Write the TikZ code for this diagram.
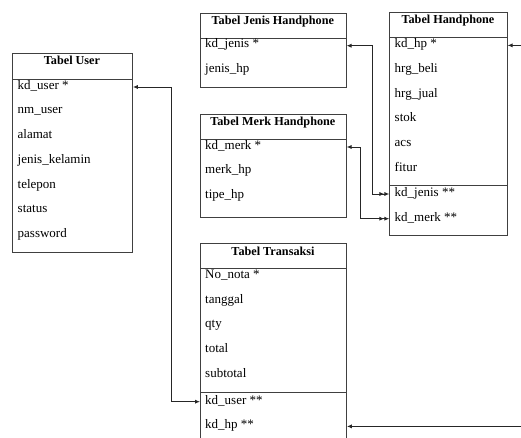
\documentclass[tikz,border=0pt]{standalone}
\usepackage{fontspec}
\setmainfont{Liberation Serif}
\usetikzlibrary{arrows.meta}
\tikzset{
  tbl/.style={draw=black!75, line width=0.9pt, inner sep=0pt, anchor=north west},
  sepline/.style={draw=black!75, line width=0.9pt},
  ttl/.style={font=\bfseries\fontsize{12.2}{14}\selectfont, anchor=base, inner sep=0pt},
  row/.style={font=\fontsize{13}{15}\selectfont, anchor=base west, inner sep=0pt},
  conn/.style={draw=black!85, line width=0.9pt},
  tip/.tip={Latex[length=5pt,width=4.2pt]},
}
\begin{document}
\begin{tikzpicture}[x=1pt,y=-1pt]
\useasboundingbox (0,0) rectangle (521,438);
\coordinate (redge) at (521,0);

% Tabel User
\node[tbl, minimum width=119.7pt, minimum height=198.7pt] (user) at (12.3,53.3) {};
\draw[sepline] (user.west |- 0,79) -- (user.east |- 0,79);
\node[ttl] (usert) at (72,65) {Tabel User};
\foreach \t [count=\i] in {kd\_user *, nm\_user, alamat, jenis\_kelamin, telepon, status, password}
  \node[row] (u\i) at (17.5,{89.3+24.7*(\i-1)}) {\t};

% Tabel Jenis Handphone
\node[tbl, minimum width=145.7pt, minimum height=74pt] (jenis) at (200,13.3) {};
\draw[sepline] (jenis.west |- 0,38) -- (jenis.east |- 0,38);
\node[ttl] (jenist) at (272.85,25) {Tabel Jenis Handphone};
\foreach \t [count=\i] in {kd\_jenis *, jenis\_hp}
  \node[row] (j\i) at (205,{48+24.7*(\i-1)}) {\t};

% Tabel Merk Handphone
\node[tbl, minimum width=145.7pt, minimum height=102.7pt] (merk) at (200,114) {};
\draw[sepline] (merk.west |- 0,139.3) -- (merk.east |- 0,139.3);
\node[ttl] (merkt) at (272.85,125.7) {Tabel Merk Handphone};
\foreach \t [count=\i] in {kd\_merk *, merk\_hp, tipe\_hp}
  \node[row] (m\i) at (205,{149.3+24.7*(\i-1)}) {\t};

% Tabel Handphone
\node[tbl, minimum width=117.4pt, minimum height=222.7pt] (hp) at (389.3,12.3) {};
\draw[sepline] (hp.west |- 0,37.7) -- (hp.east |- 0,37.7);
\draw[sepline] (hp.west |- 0,185) -- (hp.east |- 0,185);
\node[ttl] (hpt) at (448,23.8) {Tabel Handphone};
\foreach \t [count=\i] in {kd\_hp *, hrg\_beli, hrg\_jual, stok, acs, fitur}
  \node[row] (h\i) at (394.5,{47.7+24.7*(\i-1)}) {\t};
\node[row] (h7) at (394.5,196.3) {kd\_jenis **};
\node[row] (h8) at (394.5,221) {kd\_merk **};

% Tabel Transaksi
\node[tbl, minimum width=146pt, minimum height=210pt] (tr) at (200,243.3) {};
\draw[sepline] (tr.west |- 0,268.3) -- (tr.east |- 0,268.3);
\draw[sepline] (tr.west |- 0,392.5) -- (tr.east |- 0,392.5);
\node[ttl] (trt) at (273,255) {Tabel Transaksi};
\foreach \t [count=\i] in {No\_nota *, tanggal, qty, total, subtotal}
  \node[row] (t\i) at (205,{278.5+24.7*(\i-1)}) {\t};
\node[row] (t6) at (205,404) {kd\_user **};
\node[row] (t7) at (205,428.7) {kd\_hp **};

% Connectors
\draw[conn, {tip}-{tip}] (user.east |- u1.mid) -- ++(38.7,0) |- (tr.west |- t6.mid);
\draw[conn, {tip}-{tip[sep=0pt] tip}] (jenis.east |- j1.mid) -- ++(26,0) |- (hp.west |- h7.mid);
\draw[conn, {tip}-{tip[sep=0pt] tip}] (merk.east |- m1.mid) -- ++(14.3,0) |- (hp.west |- h8.mid);
\draw[conn, -{tip}] (redge |- h1.mid) -- (hp.east |- h1.mid);
\draw[conn, -{tip}] (redge |- t7.mid) -- (tr.east |- t7.mid);
\end{tikzpicture}
\end{document}
